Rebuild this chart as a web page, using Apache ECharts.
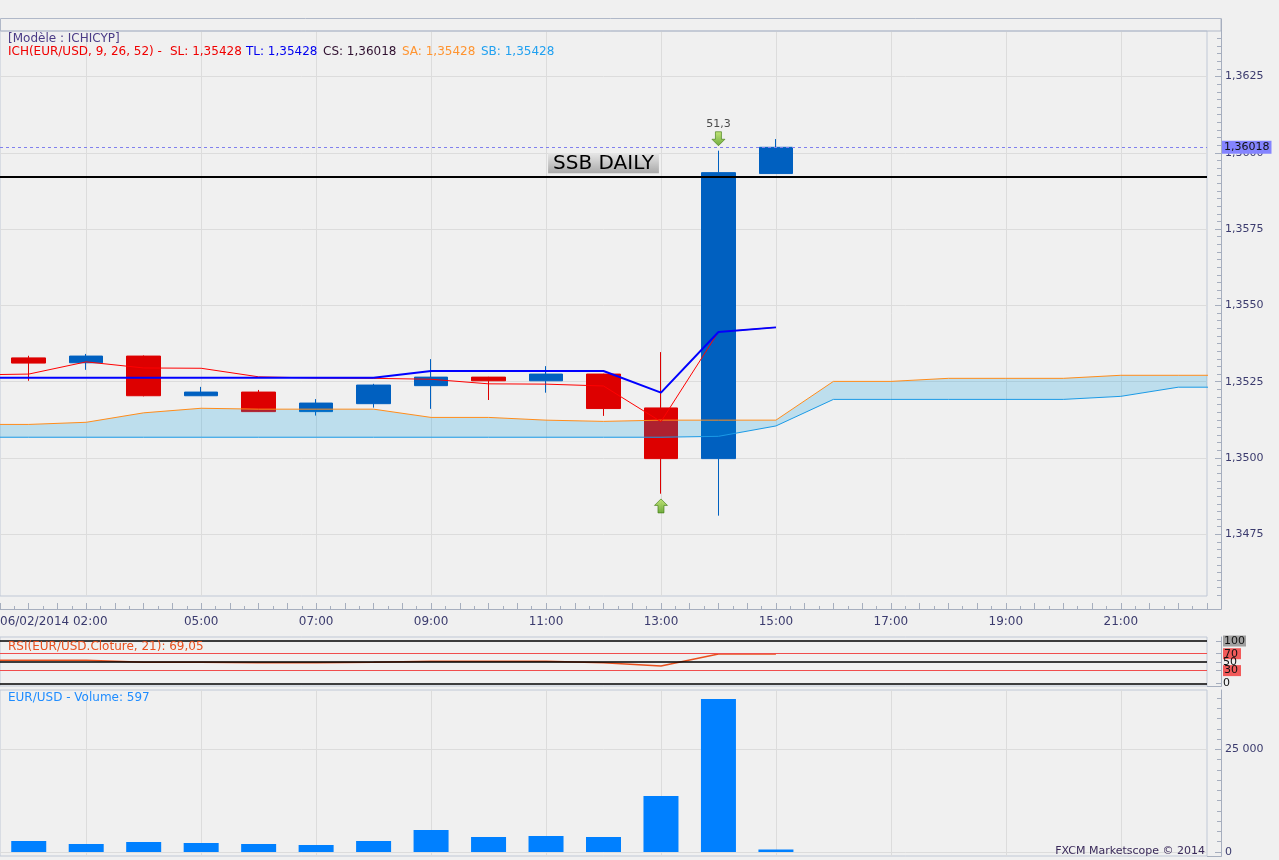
<!DOCTYPE html>
<html><head><meta charset="utf-8">
<script src="https://cdn.jsdelivr.net/npm/echarts@6.0.0/dist/echarts.min.js"></script>
<style>html,body{margin:0;padding:0;background:#f0f0f0;}#c{width:1279px;height:860px;}</style>
</head><body><div id="c"></div>
<script>
// ---------- data ----------
const candleHours = [2,3,4,5,6,7,8,9,10,11,12,13,14,15];
const opens  = [1.35328,1.35312,1.35334,1.35204,1.35216,1.35152,1.35178,1.35237,1.35265,1.35253,1.35275,1.35164,1.34998,1.35932];
const closes = [1.35311,1.35334,1.35204,1.35216,1.35152,1.35180,1.35239,1.35265,1.35253,1.35275,1.35162,1.34998,1.35935,1.36018];
const lows   = [1.35253,1.35289,1.35202,1.35203,1.35151,1.35139,1.35165,1.35161,1.35190,1.35214,1.35138,1.34883,1.34811,1.35932];
const highs  = [1.35335,1.35341,1.35336,1.35233,1.35223,1.35193,1.35243,1.35324,1.35266,1.35301,1.35276,1.35347,1.36007,1.36045];

const lineHours = [1,2,3,4,5,6,7,8,9,10,11,12,13,14,15];
const tenkan = [1.35263,1.35263,1.35263,1.35263,1.35263,1.35263,1.35263,1.35263,1.35285,1.35285,1.35285,1.35285,1.35214,1.35413,1.35428];
const kijun  = [1.35272,1.35275,1.35315,1.35295,1.35294,1.35266,1.35262,1.35261,1.35258,1.35243,1.35242,1.35236,1.35119,1.35413,1.35428];

const cloudHours = [1,2,3,4,5,6,7,8,9,10,11,12,13,14,15,16,17,18,19,20,21,22,23];
const senkouA = [1.35110,1.35110,1.35117,1.35148,1.35163,1.35160,1.35160,1.35160,1.35133,1.35133,1.35124,1.35120,1.35124,1.35124,1.35124,1.35251,1.35251,1.35261,1.35261,1.35261,1.35271,1.35271,1.35271];
const senkouB = [1.35068,1.35068,1.35068,1.35068,1.35068,1.35068,1.35068,1.35068,1.35068,1.35068,1.35068,1.35068,1.35068,1.35071,1.35105,1.35192,1.35192,1.35192,1.35192,1.35192,1.35202,1.35232,1.35232];
const currentSA = 1.35428, currentSB = 1.35428;

const rsiValues = [54.5,54.5,54.5,50,50,48.5,48.5,50,52.3,52.3,52.3,48.5,40.7,69.5,69.05];
const rsiLevels = [100,70,50,30,0];

const volumes = [2680,1950,2430,2190,1950,1700,2680,5360,3650,3900,3650,13640,37260,597];

const ssbLevel = 1.35923;
const ssbText = 'SSB DAILY';

const signalHours = [13,14];
const signalValues = [1.34843,1.36046];
const signalUp = [true,false];
const signalTexts = ['','51,3'];

const yLabelValues = [1.3475,1.3500,1.3525,1.3550,1.3575,1.3600,1.3625];
const xLabelHours = [1.5,5,7,9,11,13,15,17,19,21];
const xLabelTexts = ['06/02/2014 02:00','05:00','07:00','09:00','11:00','13:00','15:00','17:00','19:00','21:00'];
const xGridHours = [3,5,7,9,11,13,15,17,19,21];
const volLabelValues = [0,25000];

// ---------- helpers ----------
const FONT = '"DejaVu Sans", Verdana, sans-serif';
const fmt = (v, d) => v.toFixed(d).replace('.', ',');
const range = (a, b, s) => { const r = []; for (let v = a; v <= b + 1e-9; v += s) r.push(+v.toFixed(6)); return r; };
const AXIS = '#a6aebe', FRAME = '#c0c8d6', LBL = '#3b3b6e', GRIDC = '#dcdcdc';

const mainMin = 1.3454784, mainMax = 1.3639908;
const mainMinor = range(1.34550, 1.36375, 0.00025);
const volMinor = range(0, 37500, 2500);

const upArrow = 'path://M6.5,0 L13,6.5 L9.5,6.5 L9.5,14 L3.5,14 L3.5,6.5 L0,6.5 Z';
const downArrow = 'path://M3.5,0 L9.5,0 L9.5,7.5 L13,7.5 L6.5,14 L0,7.5 L3.5,7.5 Z';

const lastClose = closes[closes.length - 1];
const legendItems = [
  {x: 8,   text: 'ICH(EUR/USD, 9, 26, 52) -', color: '#f00000'},
  {x: 170, text: 'SL: ' + fmt(kijun[kijun.length-1],5), color: '#f00000'},
  {x: 246, text: 'TL: ' + fmt(tenkan[tenkan.length-1],5), color: '#0000f0'},
  {x: 323, text: 'CS: ' + fmt(lastClose,5), color: '#301030'},
  {x: 402, text: 'SA: ' + fmt(currentSA,5), color: '#ff9430'},
  {x: 481, text: 'SB: ' + fmt(currentSB,5), color: '#20a0f0'}
];

const txt = (x, y, text, color, size, align) => ({
  type: 'text', x: x, y: y, silent: true, z: 50,
  style: {text: text, fill: color, font: (size||12) + 'px ' + FONT, align: align||'left', verticalAlign: 'middle', textAlign: align||'left', textVerticalAlign: 'middle'}
});

const hidX = (gi) => ({type:'value', gridIndex: gi, min: 1.5, max: 22.5, show: false});

const option = {
  animation: false,
  backgroundColor: '#f0f0f0',
  textStyle: {fontFamily: FONT},
  grid: [
    {left: 0, top: 31, width: 1207, height: 565, show: true, borderColor: FRAME, borderWidth: 1, backgroundColor: 'transparent', containLabel: false, outerBoundsMode: 'none'},
    {left: 0, top: 637, width: 1207, height: 49, show: true, borderColor: FRAME, borderWidth: 1, backgroundColor: 'transparent', containLabel: false, outerBoundsMode: 'none'},
    {left: 0, top: 690, width: 1207, height: 166, show: true, borderColor: FRAME, borderWidth: 1, backgroundColor: 'transparent', containLabel: false, outerBoundsMode: 'none'}
  ],
  xAxis: [
    {type: 'value', gridIndex: 0, min: 1.5, max: 22.5, interval: 0.5, offset: 13,
     axisLine: {show: true, lineStyle: {color: AXIS}},
     axisTick: {show: true, inside: true, length: 6, lineStyle: {color: AXIS}},
     minorTick: {show: true, splitNumber: 2, length: 3, lineStyle: {color: AXIS}},
     splitLine: {show: false}, minorSplitLine: {show: false},
     axisLabel: {show: true, customValues: xLabelHours, alignMinLabel: 'left', margin: 7, fontSize: 12, color: LBL, fontFamily: FONT,
       formatter: v => { const i = xLabelHours.findIndex(h => Math.abs(h - v) < 1e-6); return i >= 0 ? xLabelTexts[i] : ''; }}},
    hidX(1), hidX(2)
  ],
  yAxis: [
    {type: 'value', gridIndex: 0, position: 'right', offset: 14, min: mainMin, max: mainMax,
     axisLine: {show: true, lineStyle: {color: AXIS}},
     axisTick: {show: true, inside: true, length: 6, customValues: yLabelValues, lineStyle: {color: AXIS}},
     axisLabel: {show: true, customValues: yLabelValues, margin: 4, fontSize: 11, color: LBL, fontFamily: FONT, formatter: v => fmt(v, 4)},
     splitLine: {show: true, lineStyle: {color: GRIDC, width: 1}}},
    {type: 'value', gridIndex: 0, position: 'right', offset: 14, min: mainMin, max: mainMax,
     axisLine: {show: false}, axisLabel: {show: false}, splitLine: {show: false},
     axisTick: {show: true, inside: true, length: 4, customValues: mainMinor, lineStyle: {color: AXIS}}},
    {type: 'value', gridIndex: 1, position: 'right', offset: 14, min: -6.4, max: 109.5,
     axisLine: {show: true, lineStyle: {color: AXIS}},
     axisTick: {show: true, inside: true, length: 5, customValues: rsiLevels, lineStyle: {color: AXIS}},
     splitLine: {show: false},
     axisLabel: {show: true, customValues: rsiLevels, margin: 2, fontSize: 11, color: '#111', fontFamily: FONT,
       formatter: v => v === 100 ? '{g|100}' : (v === 70 || v === 30) ? '{r|' + v + '}' : String(v),
       rich: {g: {backgroundColor: '#a0a0a0', color: '#111', fontSize: 11, padding: [0,1]}, r: {backgroundColor: '#f25a5a', color: '#111', fontSize: 11, padding: [0,3,0,1]}}}},
    {type: 'value', gridIndex: 2, position: 'right', offset: 14, min: -974, max: 39436,
     axisLine: {show: true, lineStyle: {color: AXIS}},
     axisTick: {show: true, inside: true, length: 6, customValues: volLabelValues, lineStyle: {color: AXIS}},
     splitLine: {show: true, lineStyle: {color: GRIDC}},
     axisLabel: {show: true, customValues: volLabelValues, margin: 4, fontSize: 11, color: LBL, fontFamily: FONT,
       formatter: v => String(Math.round(v)).replace(/\B(?=(\d{3})+(?!\d))/g, ' ')}},
    {type: 'value', gridIndex: 2, position: 'right', offset: 14, min: -974, max: 39436,
     axisLine: {show: false}, axisLabel: {show: false}, splitLine: {show: false},
     axisTick: {show: true, inside: true, length: 4, customValues: volMinor, lineStyle: {color: AXIS}}}
  ],
  series: [
    {type: 'candlestick', name: 'EUR/USD', xAxisIndex: 0, yAxisIndex: 0, z: 2,
     dimensions: ['hour','open','close','lowest','highest'],
     encode: {x: 'hour', y: ['open','close','lowest','highest']},
     data: candleHours.map((h, i) => [h, opens[i], closes[i], lows[i], highs[i]]),
     barWidth: 34,
     itemStyle: {color: '#0060c0', color0: '#dd0000', borderColor: '#0060c0', borderColor0: '#dd0000', borderWidth: 1},
     markLine: {silent: true, z: 1, symbol: ['none','none'], label: {show: false}, precision: 5,
       lineStyle: {color: GRIDC, type: 'solid', width: 1},
       data: xGridHours.map(h => ({xAxis: h}))}},
    {type: 'custom', name: 'cloud', xAxisIndex: 0, yAxisIndex: 0, z: 3, clip: true, silent: true,
     data: cloudHours.map((h, i) => [h, senkouA[i], senkouB[i]]),
     encode: {x: 0, y: [1, 2]},
     renderItem: (params, api) => {
       if (params.dataIndex !== 0) return null;
       const pts = [];
       for (let i = 0; i < cloudHours.length; i++) pts.push(api.coord([cloudHours[i], senkouA[i]]));
       for (let i = cloudHours.length - 1; i >= 0; i--) pts.push(api.coord([cloudHours[i], senkouB[i]]));
       return {type: 'polygon', shape: {points: pts}, style: {fill: 'rgba(0,154,226,0.21)', stroke: null}};
     }},
    {type: 'line', name: 'SB', xAxisIndex: 0, yAxisIndex: 0, z: 3, symbol: 'none',
     data: cloudHours.map((h, i) => [h, senkouB[i]]),
     lineStyle: {color: '#1a9ae6', width: 1}},
    {type: 'line', name: 'SA', xAxisIndex: 0, yAxisIndex: 0, z: 3, symbol: 'none',
     data: cloudHours.map((h, i) => [h, senkouA[i]]),
     lineStyle: {color: '#ff8c1a', width: 1}},
    {type: 'line', name: 'SL', xAxisIndex: 0, yAxisIndex: 0, z: 4, symbol: 'none',
     data: lineHours.map((h, i) => [h, kijun[i]]),
     lineStyle: {color: '#ff0000', width: 1}},
    {type: 'line', name: 'TL', xAxisIndex: 0, yAxisIndex: 0, z: 4, symbol: 'none',
     data: lineHours.map((h, i) => [h, tenkan[i]]),
     lineStyle: {color: '#0000ff', width: 2},
     markLine: {silent: true, z: 5, symbol: ['none','none'], precision: 5,
       data: [
         {yAxis: ssbLevel, lineStyle: {color: '#000', width: 2, type: 'solid'},
          label: {show: true, position: 'insideMiddleTop', distance: 3, formatter: ssbText, color: '#000', fontSize: 20, fontFamily: FONT, lineHeight: 20, padding: [0,5],
            backgroundColor: {type: 'linear', x: 0, y: 0, x2: 0, y2: 1, colorStops: [{offset: 0, color: '#e6e6e6'}, {offset: 1, color: '#a9a9a9'}]}}},
         {yAxis: lastClose, lineStyle: {color: '#8080ee', width: 1, type: [3,3]},
          label: {show: true, position: 'end', distance: 15, formatter: fmt(lastClose,5), color: '#111', fontSize: 11, fontFamily: FONT, backgroundColor: '#8484ff', padding: [1,2,1,2]}}
       ]}},
    {type: 'scatter', name: 'signals', xAxisIndex: 0, yAxisIndex: 0, z: 6, silent: true,
     data: signalHours.map((h, i) => ({value: [h, signalValues[i]], symbol: signalUp[i] ? upArrow : downArrow,
       label: {show: signalTexts[i] !== '', formatter: signalTexts[i], position: 'top', distance: 2, color: '#202020', fontSize: 11, fontFamily: FONT}})),
     symbolSize: [13, 14],
     itemStyle: {color: {type: 'linear', x: 0, y: 0, x2: 0, y2: 1, colorStops: [{offset: 0, color: '#b6e35a'}, {offset: 1, color: '#4f9a12'}]}, borderColor: '#3f7a10', borderWidth: 0.8}},
    {type: 'line', name: 'RSI', xAxisIndex: 1, yAxisIndex: 2, z: 3, symbol: 'none',
     data: lineHours.map((h, i) => [h, rsiValues[i]]),
     lineStyle: {color: '#e8501e', width: 1.5},
     markLine: {silent: true, z: 5, symbol: ['none','none'], label: {show: false}, precision: 2,
       data: rsiLevels.map(v => ({yAxis: v, lineStyle: {type: 'solid', color: (v === 70 || v === 30) ? '#f04c4c' : '#000', width: (v === 70 || v === 30) ? 1.2 : 1.5}}))}},
    {type: 'bar', name: 'Volume', xAxisIndex: 2, yAxisIndex: 4, z: 3, barWidth: 35,
     data: candleHours.map((h, i) => [h, volumes[i]]),
     itemStyle: {color: '#0080ff'},
     markLine: {silent: true, z: 1, symbol: ['none','none'], label: {show: false},
       lineStyle: {color: GRIDC, type: 'solid', width: 1},
       data: xGridHours.map(h => ({xAxis: h}))}}
  ],
  graphic: [
    {type: 'rect', silent: true, z: 40, shape: {x: 0.5, y: 18.5, width: 1220.5, height: 12.5}, style: {fill: 'none', stroke: '#b0b8c8', lineWidth: 1}},
    {type: 'polyline', silent: true, z: 40, shape: {points: [[1207, 609.5], [1221.5, 609.5], [1221.5, 18.5]]}, style: {fill: 'none', stroke: AXIS, lineWidth: 1}},
    {type: 'polyline', silent: true, z: 40, shape: {points: [[1207, 686.5], [1221.5, 686.5], [1221.5, 637]]}, style: {fill: 'none', stroke: AXIS, lineWidth: 1}},
    {type: 'polyline', silent: true, z: 40, shape: {points: [[1207, 856.5], [1221.5, 856.5], [1221.5, 690]]}, style: {fill: 'none', stroke: AXIS, lineWidth: 1}},
    txt(8, 39, '[Modèle : ICHICYP]', '#4a3b86', 12)
  ].concat(legendItems.map(it => txt(it.x, 52, it.text, it.color, 12)))
   .concat([
    txt(8, 647, 'RSI(EUR/USD.Cloture, 21): ' + fmt(rsiValues[rsiValues.length-1], 2), '#e8501e', 12),
    txt(8, 698, 'EUR/USD - Volume: ' + volumes[volumes.length-1], '#1e8cff', 12),
    txt(1205, 851, 'FXCM Marketscope © 2014', '#3a2a5a', 11, 'right')
   ])
};

const chart = echarts.init(document.getElementById('c'), null, {renderer: 'canvas'});
chart.setOption(option);
</script>
</body></html>
